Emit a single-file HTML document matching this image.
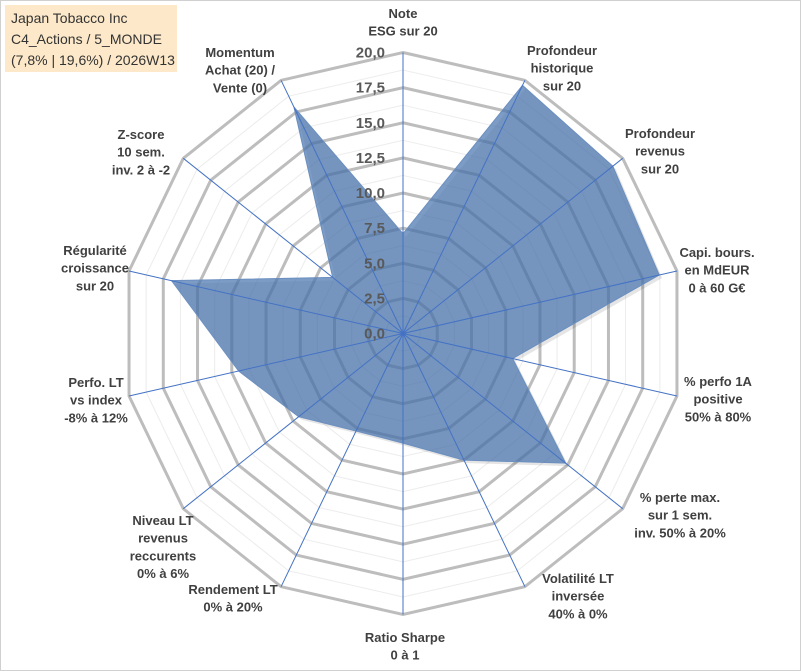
<!DOCTYPE html>
<html><head><meta charset="utf-8"><style>
body{margin:0;background:#fff;}
#wrap{position:relative;width:801px;height:671px;overflow:hidden;font-family:"Liberation Sans",sans-serif;}
svg{position:absolute;left:0;top:0;}
</style></head><body>
<div id="wrap">
<svg id="chart" width="801" height="671"></svg>
</div>
<script>
const categories=[["Note","ESG sur 20"],["Profondeur","historique","sur 20"],["Profondeur","revenus","sur 20"],["Capi. bours.","en MdEUR","0 à 60 G€"],["% perfo 1A","positive","50% à 80%"],["% perte max.","sur 1 sem.","inv. 50% à 20%"],["Volatilité LT","inversée","40% à 0%"],["Ratio Sharpe","0 à 1"],["Rendement LT","0% à 20%"],["Niveau LT","revenus","reccurents","0% à 6%"],["Perfo. LT","vs index","-8% à 12%"],["Régularité","croissance","sur 20"],["Z-score","10 sem.","inv. 2 à -2"],["Momentum","Achat (20) /","Vente (0)"]];
const values=[7.1,19.6,19.1,18.7,8.0,14.8,10.0,7.8,7.7,9.5,12.0,16.9,6.4,17.9];
const ticks=[0,2.5,5,7.5,10,12.5,15,17.5,20];
const tickLabels=["0,0","2,5","5,0","7,5","10,0","12,5","15,0","17,5","20,0"];
const labelPos=[[403,13],[562,50],[660,133],[717,252],[718,381],[680,497],[578,578],[405,637],[233,589],[163,520],[96,382],[95,250],[141,134],[240,52]];
const NS="http://www.w3.org/2000/svg";
const svg=document.getElementById('chart');
const cx=403,cy=333.5,R=281,MAX=20,N=categories.length;
function rScale(v){return v/MAX*R;}
function pt(i,v){const a=i*2*Math.PI/N;return [cx+Math.sin(a)*rScale(v),cy-Math.cos(a)*rScale(v)];}
function mk(tag,attrs){const e=document.createElementNS(NS,tag);for(const k in attrs)e.setAttribute(k,attrs[k]);svg.appendChild(e);return e;}
let fr=mk('rect',{x:0.5,y:0.5,width:800,height:670,fill:'#fff',stroke:'#d0d0d0'});


for(let t=1.25;t<MAX;t+=2.5){const p=[];for(let i=0;i<N;i++)p.push(pt(i,t).join(','));
const g=mk('polygon',{points:p.join(' '),fill:'none',stroke:'#ececec','stroke-width':1});

}
ticks.forEach(t=>{if(t===0)return;const p=[];for(let i=0;i<N;i++)p.push(pt(i,t).join(','));
const g=mk('polygon',{points:p.join(' '),fill:'none',stroke:'#bdbdbd','stroke-width':3});

});
const sp=values.map((v,i)=>pt(i,v).join(',')).join(' ');
const sh=mk('polygon',{points:sp,fill:'#000',opacity:0.1,transform:'translate(3,3)'});


const s=mk('polygon',{points:sp,fill:'#4a76b0','fill-opacity':0.72,stroke:'#6b8fc0','stroke-width':1});


for(let i=0;i<N;i++){const e=pt(i,MAX);const l=mk('line',{x1:cx,y1:cy,x2:e[0],y2:e[1],stroke:'#4472c4','stroke-width':1});

}
ticks.forEach((t,k)=>{const tx=mk('text',{x:385,y:cy-rScale(t)+5,'text-anchor':'end','font-size':15,'font-weight':'bold',fill:'#595959'});tx.textContent=tickLabels[k];

});
categories.forEach((lines,i)=>{const [x,y]=labelPos[i];const tx=mk('text',{x:x,y:y+5,'text-anchor':'middle','font-size':13,'font-weight':'bold',fill:'#404040'});


lines.forEach((ln,j)=>{const ts=document.createElementNS(NS,'tspan');ts.setAttribute('x',x);ts.setAttribute('dy',j===0?0:17.7);ts.textContent=ln;tx.appendChild(ts);});});
const tb=mk('rect',{x:5,y:5,width:172,height:67,fill:'#fde9c9'});


["Japan Tobacco Inc","C4_Actions / 5_MONDE","(7,8% | 19,6%) / 2026W13"].forEach((t,j)=>{const tx=mk('text',{x:11,y:23+j*21,'font-size':14,fill:'#333'});tx.textContent=t;

});
</script>
</body></html>
